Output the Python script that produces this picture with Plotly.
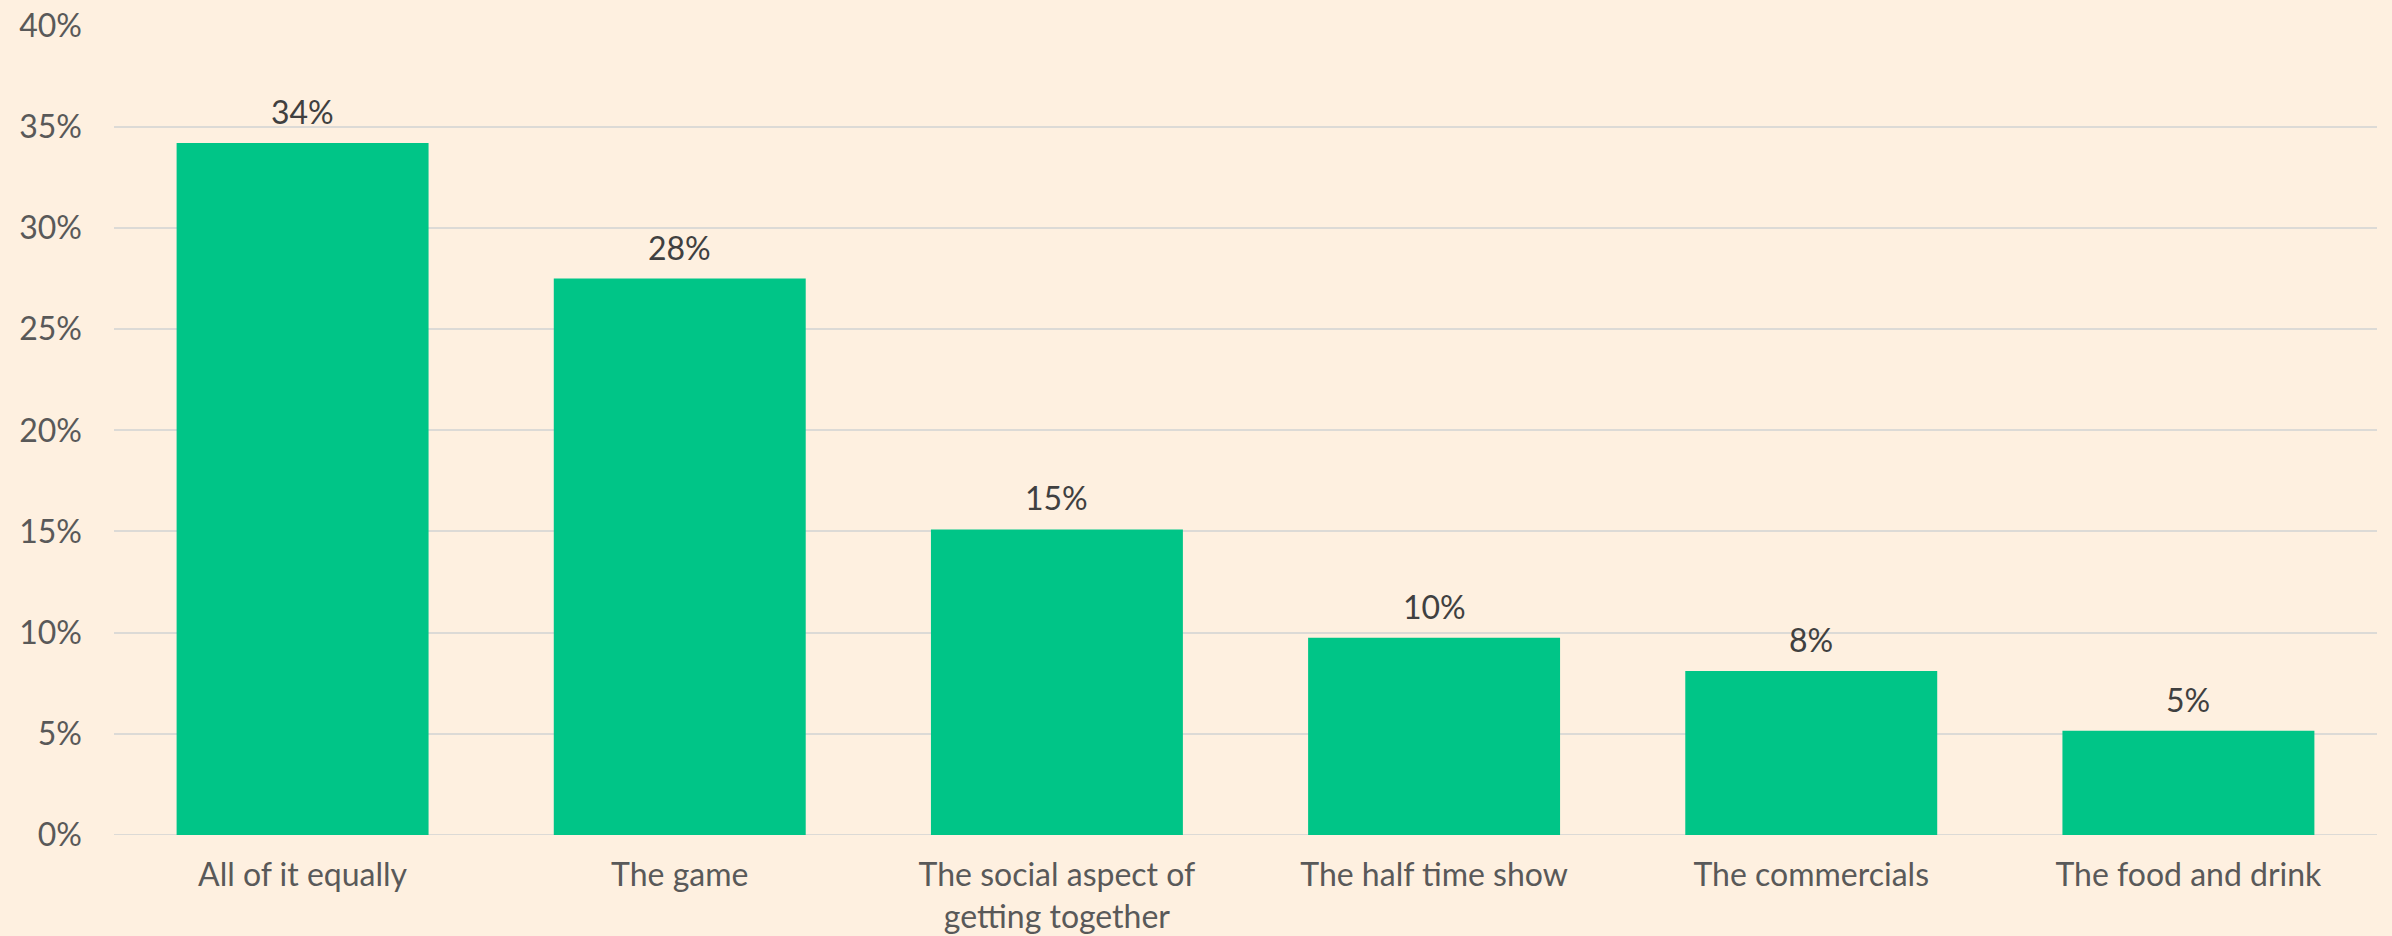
import plotly.graph_objects as go

categories = ["All of it equally", "The game", "The social aspect of<br>getting together",
              "The half time show", "The commercials", "The food and drink"]
values = [34.2, 27.5, 15.1, 9.75, 8.1, 5.15]
value_labels = ["34%", "28%", "15%", "10%", "8%", "5%"]
y_ticks = [0, 5, 10, 15, 20, 25, 30, 35, 40]
y_tick_labels = [f"{v}%" for v in y_ticks]

BG = "#FEF0E0"
BAR = "#00C587"
FONT = "Lato"
FS = 32

fig = go.Figure()
fig.add_trace(go.Bar(x=categories, y=values, marker=dict(color=BAR, line=dict(width=0)),
                     hoverinfo="skip"))
for c, v, t in zip(categories, values, value_labels):
    fig.add_annotation(x=c, y=v, text=t, showarrow=False, yanchor="bottom", yshift=10,
                       font=dict(family=FONT, size=FS, color="#404040"))

fig.update_layout(
    width=2392, height=936,
    paper_bgcolor=BG, plot_bgcolor=BG,
    margin=dict(l=114, r=15, t=25, b=101, autoexpand=False),
    bargap=0.332,
    showlegend=False,
    font=dict(family=FONT, size=FS, color="#595959"),
)
fig.update_xaxes(showgrid=False, showline=False, zeroline=False, ticks="",
                 ticklabelstandoff=18,
                 tickfont=dict(family=FONT, size=FS, color="#595959"))
fig.update_yaxes(range=[0, 40.03], tickvals=y_ticks, ticktext=y_tick_labels,
                 showgrid=True, gridcolor="#DCDAD6", gridwidth=2,
                 zeroline=False, showline=False, ticks="",
                 ticklabelstandoff=31, ticklabeloverflow="allow",
                 tickfont=dict(family=FONT, size=FS, color="#595959"))
fig.add_hline(y=0, line=dict(color="#DCDAD6", width=2), layer="below")
fig.write_html("out.html", config={"displayModeBar": False},
               post_script="document.body.style.margin='0';document.body.style.background='" + BG + "';")
